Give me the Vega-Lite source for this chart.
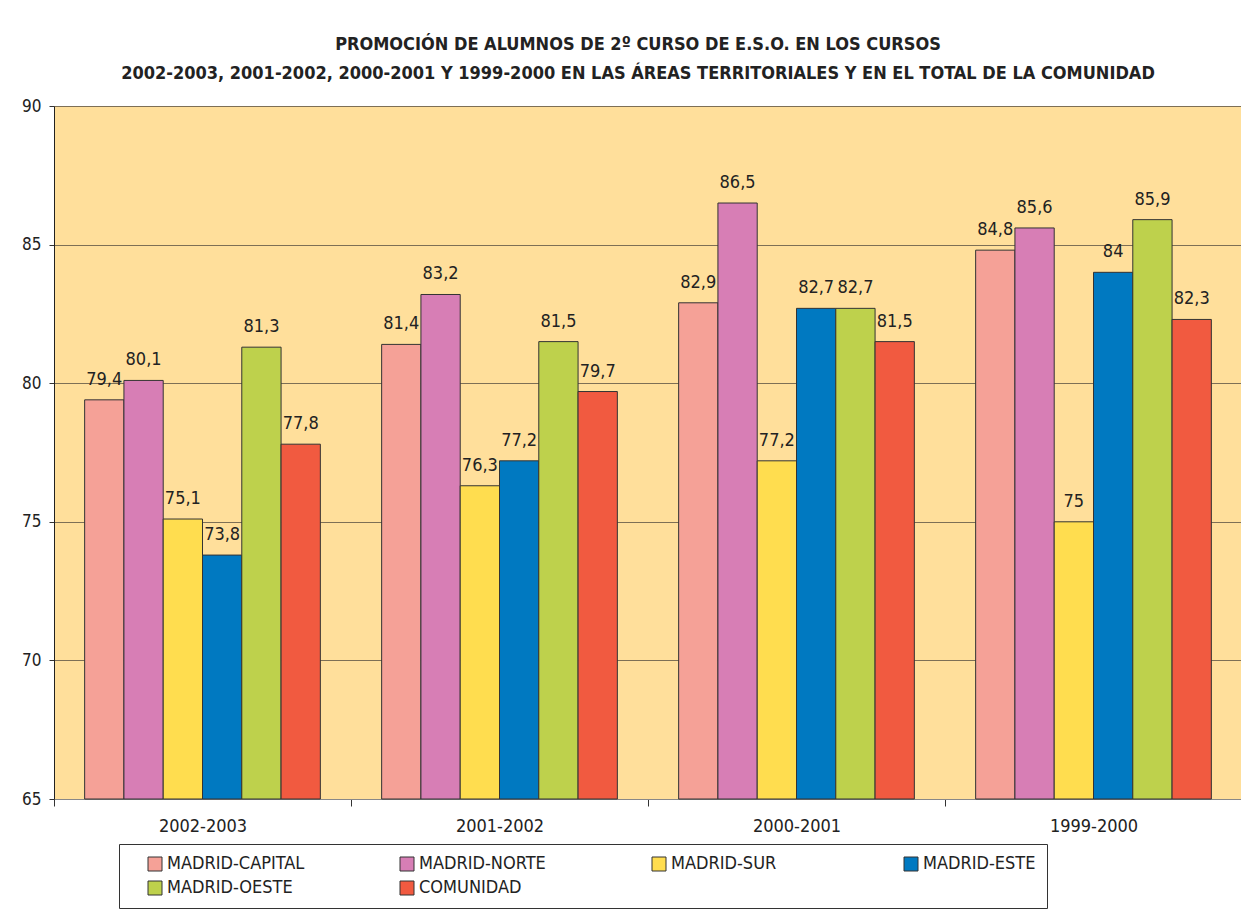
{
  "$schema": "https://vega.github.io/schema/vega-lite/v6.json",
  "width": 1188,
  "height": 693,
  "padding": {"left": 21, "top": 36, "right": 0, "bottom": 0},
  "background": "white",
  "title": {
    "text": ["PROMOCIÓN DE ALUMNOS DE 2º CURSO DE E.S.O. EN LOS CURSOS", "2002-2003, 2001-2002, 2000-2001 Y 1999-2000 EN LAS ÁREAS TERRITORIALES Y EN EL TOTAL DE LA COMUNIDAD"],
    "anchor": "middle",
    "frame": "group",
    "font": "DejaVu Sans Condensed",
    "fontSize": 18,
    "fontWeight": "bold",
    "color": "#222222",
    "lineHeight": 29,
    "offset": 14,
    "dx": -10
  },
  "data": {
    "values": [
      {"curso": "2002-2003", "area": "MADRID-CAPITAL", "valor": 79.4},
      {"curso": "2002-2003", "area": "MADRID-NORTE", "valor": 80.1},
      {"curso": "2002-2003", "area": "MADRID-SUR", "valor": 75.1},
      {"curso": "2002-2003", "area": "MADRID-ESTE", "valor": 73.8},
      {"curso": "2002-2003", "area": "MADRID-OESTE", "valor": 81.3},
      {"curso": "2002-2003", "area": "COMUNIDAD", "valor": 77.8},
      {"curso": "2001-2002", "area": "MADRID-CAPITAL", "valor": 81.4},
      {"curso": "2001-2002", "area": "MADRID-NORTE", "valor": 83.2},
      {"curso": "2001-2002", "area": "MADRID-SUR", "valor": 76.3},
      {"curso": "2001-2002", "area": "MADRID-ESTE", "valor": 77.2},
      {"curso": "2001-2002", "area": "MADRID-OESTE", "valor": 81.5},
      {"curso": "2001-2002", "area": "COMUNIDAD", "valor": 79.7},
      {"curso": "2000-2001", "area": "MADRID-CAPITAL", "valor": 82.9},
      {"curso": "2000-2001", "area": "MADRID-NORTE", "valor": 86.5},
      {"curso": "2000-2001", "area": "MADRID-SUR", "valor": 77.2},
      {"curso": "2000-2001", "area": "MADRID-ESTE", "valor": 82.7},
      {"curso": "2000-2001", "area": "MADRID-OESTE", "valor": 82.7},
      {"curso": "2000-2001", "area": "COMUNIDAD", "valor": 81.5},
      {"curso": "1999-2000", "area": "MADRID-CAPITAL", "valor": 84.8},
      {"curso": "1999-2000", "area": "MADRID-NORTE", "valor": 85.6},
      {"curso": "1999-2000", "area": "MADRID-SUR", "valor": 75},
      {"curso": "1999-2000", "area": "MADRID-ESTE", "valor": 84},
      {"curso": "1999-2000", "area": "MADRID-OESTE", "valor": 85.9},
      {"curso": "1999-2000", "area": "COMUNIDAD", "valor": 82.3}
    ]
  },
  "encoding": {
    "x": {
      "field": "curso",
      "type": "nominal",
      "sort": ["2002-2003", "2001-2002", "2000-2001", "1999-2000"],
      "scale": {"paddingInner": 0, "paddingOuter": 0},
      "axis": {
        "title": null,
        "labelAngle": 0,
        "labelFont": "DejaVu Sans Condensed",
        "labelFontSize": 18,
        "labelColor": "#222222",
        "labelPadding": 11,
        "tickBand": "extent",
        "tickSize": 7,
        "tickColor": "#333333",
        "domainColor": "#888888",
        "grid": false
      }
    },
    "xOffset": {
      "field": "area",
      "type": "nominal",
      "sort": ["MADRID-CAPITAL", "MADRID-NORTE", "MADRID-SUR", "MADRID-ESTE", "MADRID-OESTE", "COMUNIDAD"],
      "scale": {"paddingInner": 0, "paddingOuter": 0.78}
    },
    "y": {
      "field": "valor",
      "type": "quantitative",
      "scale": {"domain": [65, 90], "zero": false, "nice": false},
      "axis": {
        "title": null,
        "values": [65, 70, 75, 80, 85, 90],
        "labelFont": "DejaVu Sans Condensed",
        "labelFontSize": 17,
        "labelColor": "#222222",
        "labelPadding": 8,
        "tickSize": 5,
        "tickColor": "#333333",
        "domainColor": "#222222",
        "grid": true,
        "gridColor": "#7d6f55",
        "gridWidth": 1
      }
    }
  },
  "layer": [
    {
      "mark": {"type": "bar", "stroke": "#333333", "strokeWidth": 1},
      "encoding": {
        "y2": {"datum": 65},
        "color": {
          "field": "area",
          "type": "nominal",
          "sort": ["MADRID-CAPITAL", "MADRID-NORTE", "MADRID-SUR", "MADRID-ESTE", "MADRID-OESTE", "COMUNIDAD"],
          "scale": {
            "domain": ["MADRID-CAPITAL", "MADRID-NORTE", "MADRID-SUR", "MADRID-ESTE", "MADRID-OESTE", "COMUNIDAD"],
            "range": ["#F5A197", "#D77EB5", "#FFDD4F", "#0079C1", "#BED14C", "#F15A40"]
          },
          "legend": {
            "title": null,
            "orient": "none",
            "legendX": 65,
            "legendY": 738,
            "direction": "horizontal",
            "columns": 4,
            "gridAlign": "all",
            "symbolType": "square",
            "symbolSize": 196,
            "symbolOffset": 16,
            "symbolStrokeColor": "#333333",
            "symbolStrokeWidth": 1,
            "symbolOpacity": 1,
            "labelFont": "DejaVu Sans Condensed",
            "labelFontSize": 18,
            "labelColor": "#222222",
            "labelOffset": 3,
            "labelLimit": 400,
            "columnPadding": 77,
            "rowPadding": 6,
            "padding": 11,
            "strokeColor": "#333333",
            "fillColor": "white"
          }
        }
      }
    },
    {
      "mark": {
        "type": "text",
        "baseline": "alphabetic",
        "dy": -15,
        "font": "DejaVu Sans Condensed",
        "fontSize": 18,
        "color": "#222222"
      },
      "encoding": {
        "text": {"field": "valor", "type": "quantitative", "format": ".1~f"}
      }
    }
  ],
  "config": {
    "locale": {"number": {"decimal": ",", "thousands": ".", "grouping": [3], "currency": ["", " €"]}},
    "view": {"fill": "#FFDF9B", "stroke": null}
  }
}
